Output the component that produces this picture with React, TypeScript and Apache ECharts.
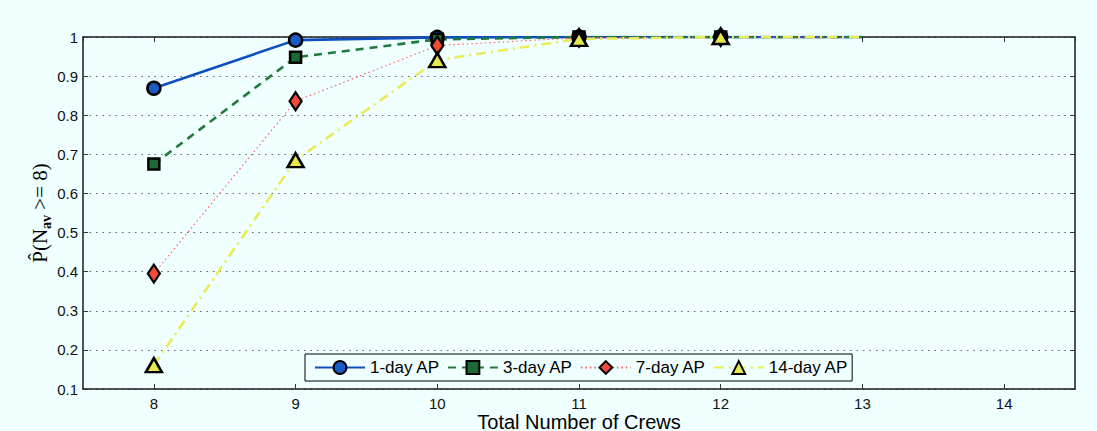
import React, { useEffect, useRef } from 'react';
import * as echarts from 'echarts';

const crews = [8, 9, 10, 11, 12, 13];
const oneDay = [0.869, 0.992, 0.999, 1, 1, 1];
const threeDay = [0.675, 0.948, 0.994, 1, 1, 1];
const sevenDay = [0.395, 0.836, 0.978, 0.998, 1, 1];
const fourteenDay = [0.161, 0.685, 0.941, 0.995, 1, 1];
const markerShown = [true, true, true, true, true, false];
const seriesNames = ['1-day AP', '3-day AP', '7-day AP', '14-day AP'];
const xTitle = 'Total Number of Crews';

const BG = '#f0ffff';
const SANS = '"Liberation Sans", Arial, Helvetica, sans-serif';
const SERIF = '"Liberation Serif", "Times New Roman", serif';

function toData(vals: number[]) {
  return vals.map((v, i) =>
    markerShown[i] ? { value: [crews[i], v] } : { value: [crews[i], v], symbol: 'none' }
  );
}

export default function App() {
  const ref = useRef<HTMLDivElement>(null);
  useEffect(() => {
    document.body.style.margin = '0';
    if (!ref.current) return;
    const chart = echarts.init(ref.current, null, { renderer: 'svg' });
    const axisLineStyle = { color: '#1a1a1a', width: 1.5 };
    const tickStyle = { show: true, inside: true, length: 5, lineStyle: { color: '#333', width: 1 } };
    const common = {
      type: 'line' as const,
      z: 3,
    };
    chart.setOption({
      animation: false,
      backgroundColor: BG,
      grid: { left: 83, right: 22, top: 37, bottom: 42, containLabel: false, outerBoundsMode: 'none' },
      legend: {
        left: 305,
        top: 354,
        orient: 'horizontal',
        backgroundColor: BG,
        borderColor: '#000',
        borderWidth: 1,
        padding: [5, 4, 5, 9],
        itemWidth: 50,
        itemHeight: 16,
        itemGap: 7,
        textStyle: { fontFamily: SANS, fontSize: 17, color: '#000' },
        data: seriesNames,
        z: 10,
      },
      xAxis: [
        {
          type: 'value',
          min: 7.5,
          max: 14.5,
          splitNumber: 7,
          position: 'bottom',
          axisLine: { show: true, lineStyle: axisLineStyle },
          axisTick: tickStyle,
          axisLabel: {
            fontFamily: SANS,
            fontSize: 15,
            color: '#111',
            margin: 7,
            showMinLabel: false,
            showMaxLabel: false,
          },
          splitLine: { show: false },
          name: xTitle,
          nameLocation: 'middle',
          nameGap: 24,
          nameMoveOverlap: false,
          nameTextStyle: { fontFamily: SANS, fontSize: 20, lineHeight: 18, color: '#000' },
        },
        {
          type: 'value',
          min: 7.5,
          max: 14.5,
          splitNumber: 7,
          position: 'top',
          axisLine: { show: true, lineStyle: axisLineStyle },
          axisTick: tickStyle,
          axisLabel: { show: false },
          splitLine: { show: false },
        },
      ],
      yAxis: [
        {
          type: 'value',
          min: 0.1,
          max: 1,
          interval: 0.1,
          position: 'left',
          axisLine: { show: true, lineStyle: axisLineStyle },
          axisTick: tickStyle,
          axisLabel: {
            fontFamily: SANS,
            fontSize: 15,
            color: '#111',
            margin: 5,
            formatter: (v: number) => String(parseFloat(v.toFixed(1))),
          },
          splitLine: {
            show: true,
            lineStyle: { color: '#666', width: 1, type: [1.5, 5] },
          },
          name: '{m|P\u0302(N}{s|av}{m| >= 8)}',
          nameLocation: 'middle',
          nameGap: 30,
          nameRotate: 90,
          nameMoveOverlap: false,
          nameTextStyle: {
            rich: {
              m: { fontFamily: SERIF, fontSize: 21, color: '#000', lineHeight: 26, verticalAlign: 'middle' },
              s: { fontFamily: SERIF, fontSize: 14, fontWeight: 'bold', color: '#000', lineHeight: 14, verticalAlign: 'bottom' },
            },
          },
        },
        {
          type: 'value',
          min: 0.1,
          max: 1,
          interval: 0.1,
          position: 'right',
          axisLine: { show: true, lineStyle: axisLineStyle },
          axisTick: tickStyle,
          axisLabel: { show: false },
          splitLine: { show: false },
        },
      ],
      series: [
        {
          ...common,
          name: seriesNames[0],
          data: toData(oneDay),
          symbol: 'circle',
          symbolSize: 13,
          lineStyle: { color: '#0d4fc0', width: 2.6, type: 'solid' },
          itemStyle: { color: '#1b5bc8', borderColor: '#000', borderWidth: 2.5 },
        },
        {
          ...common,
          name: seriesNames[1],
          data: toData(threeDay),
          symbol: 'rect',
          symbolSize: 11,
          lineStyle: { color: '#1f7a3c', width: 2.6, type: [8, 6] },
          itemStyle: { color: '#1c6b36', borderColor: '#000', borderWidth: 2.5 },
        },
        {
          ...common,
          name: seriesNames[2],
          data: toData(sevenDay),
          symbol: 'diamond',
          symbolSize: [12, 18],
          lineStyle: { color: '#ff6060', width: 1.2, type: [1.5, 3] },
          itemStyle: { color: '#f24a3a', borderColor: '#000', borderWidth: 2.3 },
        },
        {
          ...common,
          name: seriesNames[3],
          data: toData(fourteenDay),
          symbol: 'triangle',
          symbolSize: [16, 14],
          lineStyle: { color: '#e9ec55', width: 2.6, type: [10, 5, 2, 5] },
          itemStyle: { color: '#e6e84c', borderColor: '#000', borderWidth: 2.5 },
        },
      ],
    });
    return () => chart.dispose();
  }, []);
  return <div ref={ref} style={{ width: 1097, height: 431 }} />;
}
